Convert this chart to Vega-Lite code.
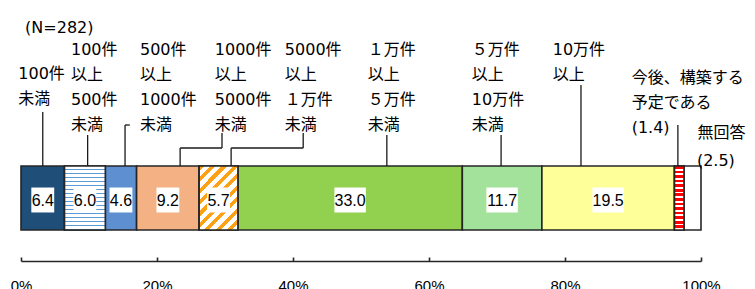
{
  "$schema": "https://vega.github.io/schema/vega-lite/v6.json",
  "width": 680,
  "height": 230,
  "autosize": {"type": "none"},
  "padding": {"left": 21, "top": 0, "right": 54, "bottom": 59},
  "background": "white",
  "config": {"view": {"stroke": null}},
  "datasets": {
    "seg": [
      {"order": 1, "cat": "100件未満", "value": 6.4},
      {"order": 2, "cat": "100件以上500件未満", "value": 6.0},
      {"order": 3, "cat": "500件以上1000件未満", "value": 4.6},
      {"order": 4, "cat": "1000件以上5000件未満", "value": 9.2},
      {"order": 5, "cat": "5000件以上１万件未満", "value": 5.7},
      {"order": 6, "cat": "１万件以上５万件未満", "value": 33.0},
      {"order": 7, "cat": "５万件以上10万件未満", "value": 11.7},
      {"order": 8, "cat": "10万件以上", "value": 19.5},
      {"order": 9, "cat": "今後、構築する予定である", "value": 1.4},
      {"order": 10, "cat": "無回答", "value": 2.5}
    ],
    "labels": [
      {"text": "(N=282)", "lx": 0.6, "ly": 21.0},
      {"text": "100件\n未満", "lx": -0.4, "ly": 16.45},
      {"text": "100件\n以上\n500件\n未満", "lx": 7.35, "ly": 18.85},
      {"text": "500件\n以上\n1000件\n未満", "lx": 17.5, "ly": 18.85},
      {"text": "1000件\n以上\n5000件\n未満", "lx": 28.5, "ly": 18.85},
      {"text": "5000件\n以上\n１万件\n未満", "lx": 38.8, "ly": 18.85},
      {"text": "１万件\n以上\n５万件\n未満", "lx": 51.0, "ly": 18.85},
      {"text": "５万件\n以上\n10万件\n未満", "lx": 66.3, "ly": 18.85},
      {"text": "10万件\n以上", "lx": 78.2, "ly": 18.85},
      {"text": "今後、構築する\n予定である\n(1.4)", "lx": 89.8, "ly": 15.98},
      {"text": "無回答", "lx": 99.5, "ly": 10.48},
      {"text": "(2.5)", "lx": 99.4, "ly": 7.7}
    ],
    "leaders": [
      {"x": 3.2, "x2": 3.2, "y": 11.8, "y2": 6.4},
      {"x": 9.8, "x2": 9.8, "y": 9.5, "y2": 6.4},
      {"x": 15.3, "x2": 15.3, "y": 10.5, "y2": 6.4},
      {"x": 15.3, "x2": 16.0, "y": 10.5, "y2": 10.5},
      {"x": 29.56, "x2": 29.56, "y": 9.7, "y2": 8.2},
      {"x": 23.4, "x2": 29.56, "y": 8.2, "y2": 8.2},
      {"x": 23.4, "x2": 23.4, "y": 8.2, "y2": 6.4},
      {"x": 41.5, "x2": 41.5, "y": 9.7, "y2": 8.2},
      {"x": 30.9, "x2": 41.5, "y": 8.2, "y2": 8.2},
      {"x": 30.9, "x2": 30.9, "y": 8.2, "y2": 6.4},
      {"x": 53.8, "x2": 53.8, "y": 9.5, "y2": 6.4},
      {"x": 70.6, "x2": 70.6, "y": 9.5, "y2": 6.4},
      {"x": 82.35, "x2": 82.35, "y": 14.5, "y2": 6.4},
      {"x": 96.6, "x2": 96.6, "y": 10.5, "y2": 6.4}
    ]
  },
  "layer": [
    {
      "data": {"name": "seg"},
      "transform": [
        {"stack": "value", "groupby": [], "sort": [{"field": "order", "order": "ascending"}], "as": ["x0", "x1"]},
        {"calculate": "(datum.x0 + datum.x1) / 2", "as": "mid"}
      ],
      "layer": [
        {
          "mark": {"type": "bar", "stroke": "#262626", "strokeWidth": 1.6},
          "encoding": {
            "x": {"field": "x0", "type": "quantitative", "title": null, "scale": {"domain": [0, 100], "nice": false, "zero": false},
              "axis": {"values": [0, 20, 40, 60, 80, 100], "labelExpr": "datum.value + '%'", "title": null, "grid": false, "offset": 31, "tickSize": -4, "labelPadding": 21, "labelFontSize": 15, "labelFont": "Liberation Sans", "labelColor": "#000000", "domainColor": "#262626", "domainWidth": 1.6, "tickColor": "#262626", "tickWidth": 1.6, "labelFlush": false, "labelOverlap": false, "orient": "bottom"}},
            "x2": {"field": "x1"},
            "y": {"datum": 0, "type": "quantitative", "scale": {"domain": [0, 23], "nice": false, "zero": false}, "axis": null},
            "y2": {"datum": 6.4},
            "fill": {"field": "cat", "type": "nominal", "legend": null,
              "scale": {"domain": ["100件未満", "100件以上500件未満", "500件以上1000件未満", "1000件以上5000件未満", "5000件以上１万件未満", "１万件以上５万件未満", "５万件以上10万件未満", "10万件以上", "今後、構築する予定である", "無回答"],
                "range": ["#1F4E79", "#FFFFFF", "#5E8FD0", "#F4B183", "#FFFFFF", "#92D050", "#A3E29B", "#FFFF99", "#FFFFFF", "#FFFFFF"]}}
          }
        },
        {
          "transform": [{"filter": "datum.order == 2"}],
          "mark": {"type": "bar", "stroke": "#262626", "strokeWidth": 1.6,
            "fill": {"gradient": "linear", "x1": 0, "y1": 0, "x2": 0, "y2": 1, "stops": [
              {"offset": 0, "color": "#FFFFFF"},
              {"offset": 0.04, "color": "#FFFFFF"}, {"offset": 0.04, "color": "#5B9BD5"}, {"offset": 0.06, "color": "#5B9BD5"}, {"offset": 0.06, "color": "#FFFFFF"},
              {"offset": 0.1025, "color": "#FFFFFF"}, {"offset": 0.1025, "color": "#5B9BD5"}, {"offset": 0.1225, "color": "#5B9BD5"}, {"offset": 0.1225, "color": "#FFFFFF"},
              {"offset": 0.165, "color": "#FFFFFF"}, {"offset": 0.165, "color": "#5B9BD5"}, {"offset": 0.185, "color": "#5B9BD5"}, {"offset": 0.185, "color": "#FFFFFF"},
              {"offset": 0.2275, "color": "#FFFFFF"}, {"offset": 0.2275, "color": "#5B9BD5"}, {"offset": 0.2475, "color": "#5B9BD5"}, {"offset": 0.2475, "color": "#FFFFFF"},
              {"offset": 0.29, "color": "#FFFFFF"}, {"offset": 0.29, "color": "#5B9BD5"}, {"offset": 0.31, "color": "#5B9BD5"}, {"offset": 0.31, "color": "#FFFFFF"},
              {"offset": 0.3525, "color": "#FFFFFF"}, {"offset": 0.3525, "color": "#5B9BD5"}, {"offset": 0.3725, "color": "#5B9BD5"}, {"offset": 0.3725, "color": "#FFFFFF"},
              {"offset": 0.415, "color": "#FFFFFF"}, {"offset": 0.415, "color": "#5B9BD5"}, {"offset": 0.435, "color": "#5B9BD5"}, {"offset": 0.435, "color": "#FFFFFF"},
              {"offset": 0.4775, "color": "#FFFFFF"}, {"offset": 0.4775, "color": "#5B9BD5"}, {"offset": 0.4975, "color": "#5B9BD5"}, {"offset": 0.4975, "color": "#FFFFFF"},
              {"offset": 0.54, "color": "#FFFFFF"}, {"offset": 0.54, "color": "#5B9BD5"}, {"offset": 0.56, "color": "#5B9BD5"}, {"offset": 0.56, "color": "#FFFFFF"},
              {"offset": 0.6025, "color": "#FFFFFF"}, {"offset": 0.6025, "color": "#5B9BD5"}, {"offset": 0.6225, "color": "#5B9BD5"}, {"offset": 0.6225, "color": "#FFFFFF"},
              {"offset": 0.665, "color": "#FFFFFF"}, {"offset": 0.665, "color": "#5B9BD5"}, {"offset": 0.685, "color": "#5B9BD5"}, {"offset": 0.685, "color": "#FFFFFF"},
              {"offset": 0.7275, "color": "#FFFFFF"}, {"offset": 0.7275, "color": "#5B9BD5"}, {"offset": 0.7475, "color": "#5B9BD5"}, {"offset": 0.7475, "color": "#FFFFFF"},
              {"offset": 0.79, "color": "#FFFFFF"}, {"offset": 0.79, "color": "#5B9BD5"}, {"offset": 0.81, "color": "#5B9BD5"}, {"offset": 0.81, "color": "#FFFFFF"},
              {"offset": 0.8525, "color": "#FFFFFF"}, {"offset": 0.8525, "color": "#5B9BD5"}, {"offset": 0.8725, "color": "#5B9BD5"}, {"offset": 0.8725, "color": "#FFFFFF"},
              {"offset": 0.915, "color": "#FFFFFF"}, {"offset": 0.915, "color": "#5B9BD5"}, {"offset": 0.935, "color": "#5B9BD5"}, {"offset": 0.935, "color": "#FFFFFF"},
              {"offset": 0.9775, "color": "#FFFFFF"}, {"offset": 0.9775, "color": "#5B9BD5"}, {"offset": 0.9975, "color": "#5B9BD5"}, {"offset": 0.9975, "color": "#FFFFFF"},
              {"offset": 1, "color": "#FFFFFF"}
            ]}},
          "encoding": {
            "x": {"field": "x0", "type": "quantitative", "title": null, "scale": {"domain": [0, 100], "nice": false, "zero": false}},
            "x2": {"field": "x1"},
            "y": {"datum": 0, "type": "quantitative", "scale": {"domain": [0, 23], "nice": false, "zero": false}, "axis": null},
            "y2": {"datum": 6.4}
          }
        },
        {
          "transform": [{"filter": "datum.order == 5"}],
          "mark": {"type": "bar", "stroke": "#262626", "strokeWidth": 1.6,
            "fill": {"gradient": "linear", "x1": 0, "y1": 0, "x2": 0.715, "y2": 1.174, "stops": [
              {"offset": 0, "color": "#FFA114"}, {"offset": 0.05, "color": "#FFA114"}, {"offset": 0.05, "color": "#FFFFFF"}, {"offset": 0.1111, "color": "#FFFFFF"},
              {"offset": 0.1111, "color": "#FFA114"}, {"offset": 0.1611, "color": "#FFA114"}, {"offset": 0.1611, "color": "#FFFFFF"}, {"offset": 0.2222, "color": "#FFFFFF"},
              {"offset": 0.2222, "color": "#FFA114"}, {"offset": 0.2722, "color": "#FFA114"}, {"offset": 0.2722, "color": "#FFFFFF"}, {"offset": 0.3333, "color": "#FFFFFF"},
              {"offset": 0.3333, "color": "#FFA114"}, {"offset": 0.3833, "color": "#FFA114"}, {"offset": 0.3833, "color": "#FFFFFF"}, {"offset": 0.4444, "color": "#FFFFFF"},
              {"offset": 0.4444, "color": "#FFA114"}, {"offset": 0.4944, "color": "#FFA114"}, {"offset": 0.4944, "color": "#FFFFFF"}, {"offset": 0.5556, "color": "#FFFFFF"},
              {"offset": 0.5556, "color": "#FFA114"}, {"offset": 0.6056, "color": "#FFA114"}, {"offset": 0.6056, "color": "#FFFFFF"}, {"offset": 0.6667, "color": "#FFFFFF"},
              {"offset": 0.6667, "color": "#FFA114"}, {"offset": 0.7167, "color": "#FFA114"}, {"offset": 0.7167, "color": "#FFFFFF"}, {"offset": 0.7778, "color": "#FFFFFF"},
              {"offset": 0.7778, "color": "#FFA114"}, {"offset": 0.8278, "color": "#FFA114"}, {"offset": 0.8278, "color": "#FFFFFF"}, {"offset": 0.8889, "color": "#FFFFFF"},
              {"offset": 0.8889, "color": "#FFA114"}, {"offset": 0.9389, "color": "#FFA114"}, {"offset": 0.9389, "color": "#FFFFFF"}, {"offset": 1, "color": "#FFFFFF"}
            ]}},
          "encoding": {
            "x": {"field": "x0", "type": "quantitative", "title": null, "scale": {"domain": [0, 100], "nice": false, "zero": false}},
            "x2": {"field": "x1"},
            "y": {"datum": 0, "type": "quantitative", "scale": {"domain": [0, 23], "nice": false, "zero": false}, "axis": null},
            "y2": {"datum": 6.4}
          }
        },
        {
          "transform": [{"filter": "datum.order == 9"}],
          "mark": {"type": "bar", "stroke": "#262626", "strokeWidth": 1.6,
            "fill": {"gradient": "linear", "x1": 0, "y1": 0, "x2": 0, "y2": 1, "stops": [
              {"offset": 0, "color": "#FF0000"}, {"offset": 0.043, "color": "#FF0000"}, {"offset": 0.043, "color": "#FFFFFF"}, {"offset": 0.0714, "color": "#FFFFFF"},
              {"offset": 0.0714, "color": "#FF0000"}, {"offset": 0.1144, "color": "#FF0000"}, {"offset": 0.1144, "color": "#FFFFFF"}, {"offset": 0.1429, "color": "#FFFFFF"},
              {"offset": 0.1429, "color": "#FF0000"}, {"offset": 0.1859, "color": "#FF0000"}, {"offset": 0.1859, "color": "#FFFFFF"}, {"offset": 0.2143, "color": "#FFFFFF"},
              {"offset": 0.2143, "color": "#FF0000"}, {"offset": 0.2573, "color": "#FF0000"}, {"offset": 0.2573, "color": "#FFFFFF"}, {"offset": 0.2857, "color": "#FFFFFF"},
              {"offset": 0.2857, "color": "#FF0000"}, {"offset": 0.3287, "color": "#FF0000"}, {"offset": 0.3287, "color": "#FFFFFF"}, {"offset": 0.3571, "color": "#FFFFFF"},
              {"offset": 0.3571, "color": "#FF0000"}, {"offset": 0.4001, "color": "#FF0000"}, {"offset": 0.4001, "color": "#FFFFFF"}, {"offset": 0.4286, "color": "#FFFFFF"},
              {"offset": 0.4286, "color": "#FF0000"}, {"offset": 0.4716, "color": "#FF0000"}, {"offset": 0.4716, "color": "#FFFFFF"}, {"offset": 0.5, "color": "#FFFFFF"},
              {"offset": 0.5, "color": "#FF0000"}, {"offset": 0.543, "color": "#FF0000"}, {"offset": 0.543, "color": "#FFFFFF"}, {"offset": 0.5714, "color": "#FFFFFF"},
              {"offset": 0.5714, "color": "#FF0000"}, {"offset": 0.6144, "color": "#FF0000"}, {"offset": 0.6144, "color": "#FFFFFF"}, {"offset": 0.6429, "color": "#FFFFFF"},
              {"offset": 0.6429, "color": "#FF0000"}, {"offset": 0.6859, "color": "#FF0000"}, {"offset": 0.6859, "color": "#FFFFFF"}, {"offset": 0.7143, "color": "#FFFFFF"},
              {"offset": 0.7143, "color": "#FF0000"}, {"offset": 0.7573, "color": "#FF0000"}, {"offset": 0.7573, "color": "#FFFFFF"}, {"offset": 0.7857, "color": "#FFFFFF"},
              {"offset": 0.7857, "color": "#FF0000"}, {"offset": 0.8287, "color": "#FF0000"}, {"offset": 0.8287, "color": "#FFFFFF"}, {"offset": 0.8571, "color": "#FFFFFF"},
              {"offset": 0.8571, "color": "#FF0000"}, {"offset": 0.9001, "color": "#FF0000"}, {"offset": 0.9001, "color": "#FFFFFF"}, {"offset": 0.9286, "color": "#FFFFFF"},
              {"offset": 0.9286, "color": "#FF0000"}, {"offset": 0.9716, "color": "#FF0000"}, {"offset": 0.9716, "color": "#FFFFFF"}, {"offset": 1, "color": "#FFFFFF"}
            ]}},
          "encoding": {
            "x": {"field": "x0", "type": "quantitative", "title": null, "scale": {"domain": [0, 100], "nice": false, "zero": false}},
            "x2": {"field": "x1"},
            "y": {"datum": 0, "type": "quantitative", "scale": {"domain": [0, 23], "nice": false, "zero": false}, "axis": null},
            "y2": {"datum": 6.4}
          }
        },
        {
          "transform": [{"filter": "datum.value >= 3"}],
          "mark": {"type": "point", "filled": true, "fill": "#FFFFFF", "strokeWidth": 0, "size": 676, "opacity": 1},
          "encoding": {
            "x": {"field": "mid", "type": "quantitative", "title": null, "scale": {"domain": [0, 100], "nice": false, "zero": false}},
            "y": {"datum": 3.0, "type": "quantitative", "scale": {"domain": [0, 23], "nice": false, "zero": false}, "axis": null},
            "shape": {"condition": {"test": "datum.value >= 10", "value": "M-1.21,-0.96H1.21V0.96H-1.21Z"}, "value": "M-0.88,-0.96H0.88V0.96H-0.88Z"}
          }
        },
        {
          "transform": [{"filter": "datum.value >= 3"}],
          "mark": {"type": "text", "font": "Liberation Sans", "fontSize": 16, "fill": "#000000", "align": "center", "baseline": "middle"},
          "encoding": {
            "x": {"field": "mid", "type": "quantitative", "title": null, "scale": {"domain": [0, 100], "nice": false, "zero": false}},
            "y": {"datum": 2.95, "type": "quantitative", "scale": {"domain": [0, 23], "nice": false, "zero": false}, "axis": null},
            "text": {"field": "value", "type": "quantitative", "format": ".1f"}
          }
        }
      ]
    },
    {
      "data": {"name": "leaders"},
      "mark": {"type": "rule", "stroke": "#1A1A1A", "strokeWidth": 1.3},
      "encoding": {
        "x": {"field": "x", "type": "quantitative", "title": null, "scale": {"domain": [0, 100], "nice": false, "zero": false}},
        "x2": {"field": "x2"},
        "y": {"field": "y", "type": "quantitative", "scale": {"domain": [0, 23], "nice": false, "zero": false}, "axis": null},
        "y2": {"field": "y2"}
      }
    },
    {
      "data": {"name": "labels"},
      "mark": {"type": "text", "font": "DejaVu Sans, Noto Sans CJK JP", "fontSize": 16, "lineHeight": 25, "lineBreak": "\n", "align": "left", "baseline": "top", "fill": "#000000"},
      "encoding": {
        "x": {"field": "lx", "type": "quantitative", "title": null, "scale": {"domain": [0, 100], "nice": false, "zero": false}},
        "y": {"field": "ly", "type": "quantitative", "scale": {"domain": [0, 23], "nice": false, "zero": false}, "axis": null},
        "text": {"field": "text", "type": "nominal"}
      }
    }
  ]
}
